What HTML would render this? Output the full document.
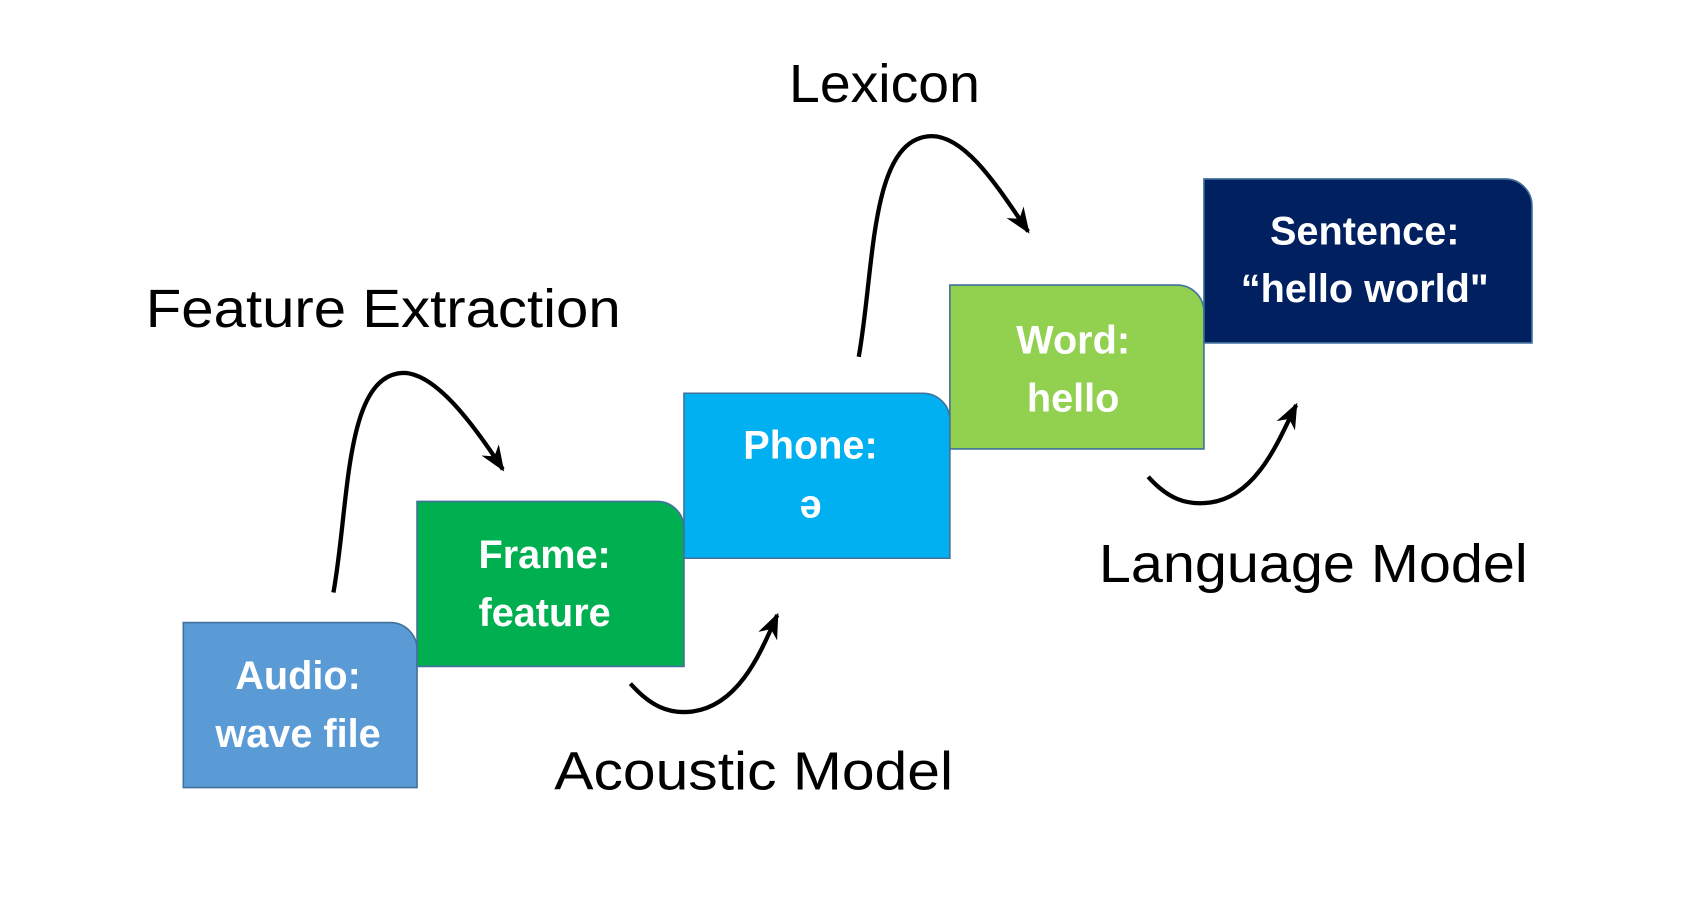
<!DOCTYPE html>
<html><head><meta charset="utf-8"><style>
html,body{margin:0;padding:0;background:#fff;width:1681px;height:899px;overflow:hidden}
svg{display:block}
text{font-family:"Liberation Sans",sans-serif}
.b{fill:#fff;font-weight:bold;font-size:37px;text-anchor:middle}
.l{fill:#000;font-size:50px}
</style></head><body>
<svg width="1681" height="899" viewBox="-1 0 1568 839" preserveAspectRatio="none">
<defs>
<marker id="h" viewBox="0 0 10 10" refX="9" refY="5" markerWidth="24" markerHeight="24" markerUnits="userSpaceOnUse" orient="auto"><path d="M0,1 L10,5 L0,9 L3,5 Z" fill="#000"/></marker></defs>
<g stroke="#41719C" stroke-width="1.5">
<path d="M170,581 H363 A25,25 0 0 1 388,606 V735 H170 Z" fill="#5B9BD5"/>
<path d="M388,468 H612 A25,25 0 0 1 637,493 V622 H388 Z" fill="#00B050"/>
<path d="M637,367 H860 A25,25 0 0 1 885,392 V521 H637 Z" fill="#00B0F0"/>
<path d="M885,266 H1097 A25,25 0 0 1 1122,291 V419 H885 Z" fill="#92D050"/>
<path d="M1122,167 H1403 A25,25 0 0 1 1428,192 V320 H1122 Z" fill="#002060"/>
</g>
<text class="b" x="277" y="643">Audio:</text><text class="b" x="277" y="697">wave file</text>
<text class="b" x="507" y="530">Frame:</text><text class="b" x="507" y="584">feature</text>
<text class="b" x="755" y="428">Phone:</text><text class="b" x="755" y="483">ə</text>
<text class="b" x="1000" y="330">Word:</text><text class="b" x="1000" y="384">hello</text>
<text class="b" x="1272" y="228">Sentence:</text><text class="b" x="1272" y="282">“hello world"</text>
<text class="l" x="135" y="305" textLength="443" lengthAdjust="spacingAndGlyphs">Feature Extraction</text>
<text class="l" x="735" y="95" textLength="178" lengthAdjust="spacingAndGlyphs">Lexicon</text>
<text class="l" x="516" y="737" textLength="372" lengthAdjust="spacingAndGlyphs">Acoustic Model</text>
<text class="l" x="1024" y="543" textLength="400" lengthAdjust="spacingAndGlyphs">Language Model</text>
<g fill="none" stroke="#000" stroke-width="4">
<path d="M310,553 C325,470 320,350 375,348 C405,348 440,395 468,438" marker-end="url(#h)"/>
<path d="M800,333 C815,250 810,128 868,127 C900,127 930,175 958,216" marker-end="url(#h)"/>
<path d="M587,638 C605,658 622,667 645,664 C690,658 710,605 724,574" marker-end="url(#h)"/>
<path d="M1070,445 C1088,465 1105,472 1128,469 C1172,463 1192,410 1208,378" marker-end="url(#h)"/>
</g>
</svg>
</body></html>
